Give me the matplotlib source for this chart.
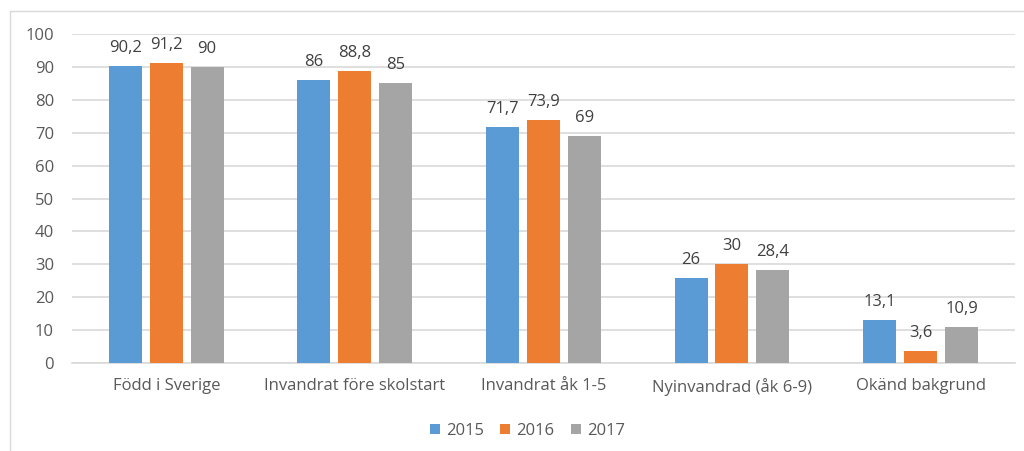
import numpy as np
import matplotlib
matplotlib.use("Agg")
import matplotlib.pyplot as plt
from matplotlib.patches import Rectangle

# Data
kategorier = ["Född i Sverige", "Invandrat före skolstart", "Invandrat åk 1-5",
              "Nyinvandrad (åk 6-9)", "Okänd bakgrund"]
ar = ["2015", "2016", "2017"]
v2015 = [90.2, 86, 71.7, 26, 13.1]
v2016 = [91.2, 88.8, 73.9, 30, 3.6]
v2017 = [90, 85, 69, 28.4, 10.9]
etiketter_2015 = ["90,2", "86", "71,7", "26", "13,1"]
etiketter_2016 = ["91,2", "88,8", "73,9", "30", "3,6"]
etiketter_2017 = ["90", "85", "69", "28,4", "10,9"]

farger = ["#5B9BD5", "#ED7D31", "#A5A5A5"]
textfarg = "#595959"

plt.rcParams["font.family"] = ["Open Sans", "DejaVu Sans"]

fig = plt.figure(figsize=(10.24, 4.51), dpi=100)
ax = fig.add_axes([0.0703, 0.195, 0.9207, 0.7296])

x = np.arange(len(kategorier))
bredd = 0.175
steg = 0.217
serier = [v2015, v2016, v2017]
etiketter = [etiketter_2015, etiketter_2016, etiketter_2017]
for i, (vals, lab) in enumerate(zip(serier, etiketter)):
    pos = x + (i - 1) * steg
    ax.bar(pos, vals, width=bredd, color=farger[i], label=ar[i], zorder=3)
    for p, v, t in zip(pos, vals, lab):
        ax.text(p, v + 3.0, t, ha="center", va="bottom", fontsize=12,
                color="#404040")

ax.set_xlim(-0.5, len(kategorier) - 0.5)
ax.set_ylim(0, 100)
ax.set_yticks(range(0, 101, 10))
ax.set_xticks(x)
ax.set_xticklabels(kategorier)
ax.tick_params(axis="both", length=0, labelsize=12, colors=textfarg)
ax.tick_params(axis="x", pad=11)
ax.tick_params(axis="y", pad=13)
ax.grid(axis="y", color="#D9D9D9", linewidth=1.2, zorder=0)
for s in ["top", "right", "left"]:
    ax.spines[s].set_visible(False)
ax.spines["bottom"].set_color("#D9D9D9")
ax.spines["bottom"].set_linewidth(1.2)

leg = fig.legend(loc="center", bbox_to_anchor=(0.515, 0.045), ncol=3,
                 frameon=False, fontsize=12, handlelength=0.6,
                 handleheight=0.6, handletextpad=0.35, columnspacing=1.0)
for t in leg.get_texts():
    t.set_color(textfarg)

# ram runt diagrammet
fig.patches.append(Rectangle((10 / 1024, -0.1), 1.2, 1 - 11 / 451 + 0.1,
                             transform=fig.transFigure, fill=False,
                             edgecolor="#D9D9D9", linewidth=1))

fig.savefig("out.png", dpi=100)
